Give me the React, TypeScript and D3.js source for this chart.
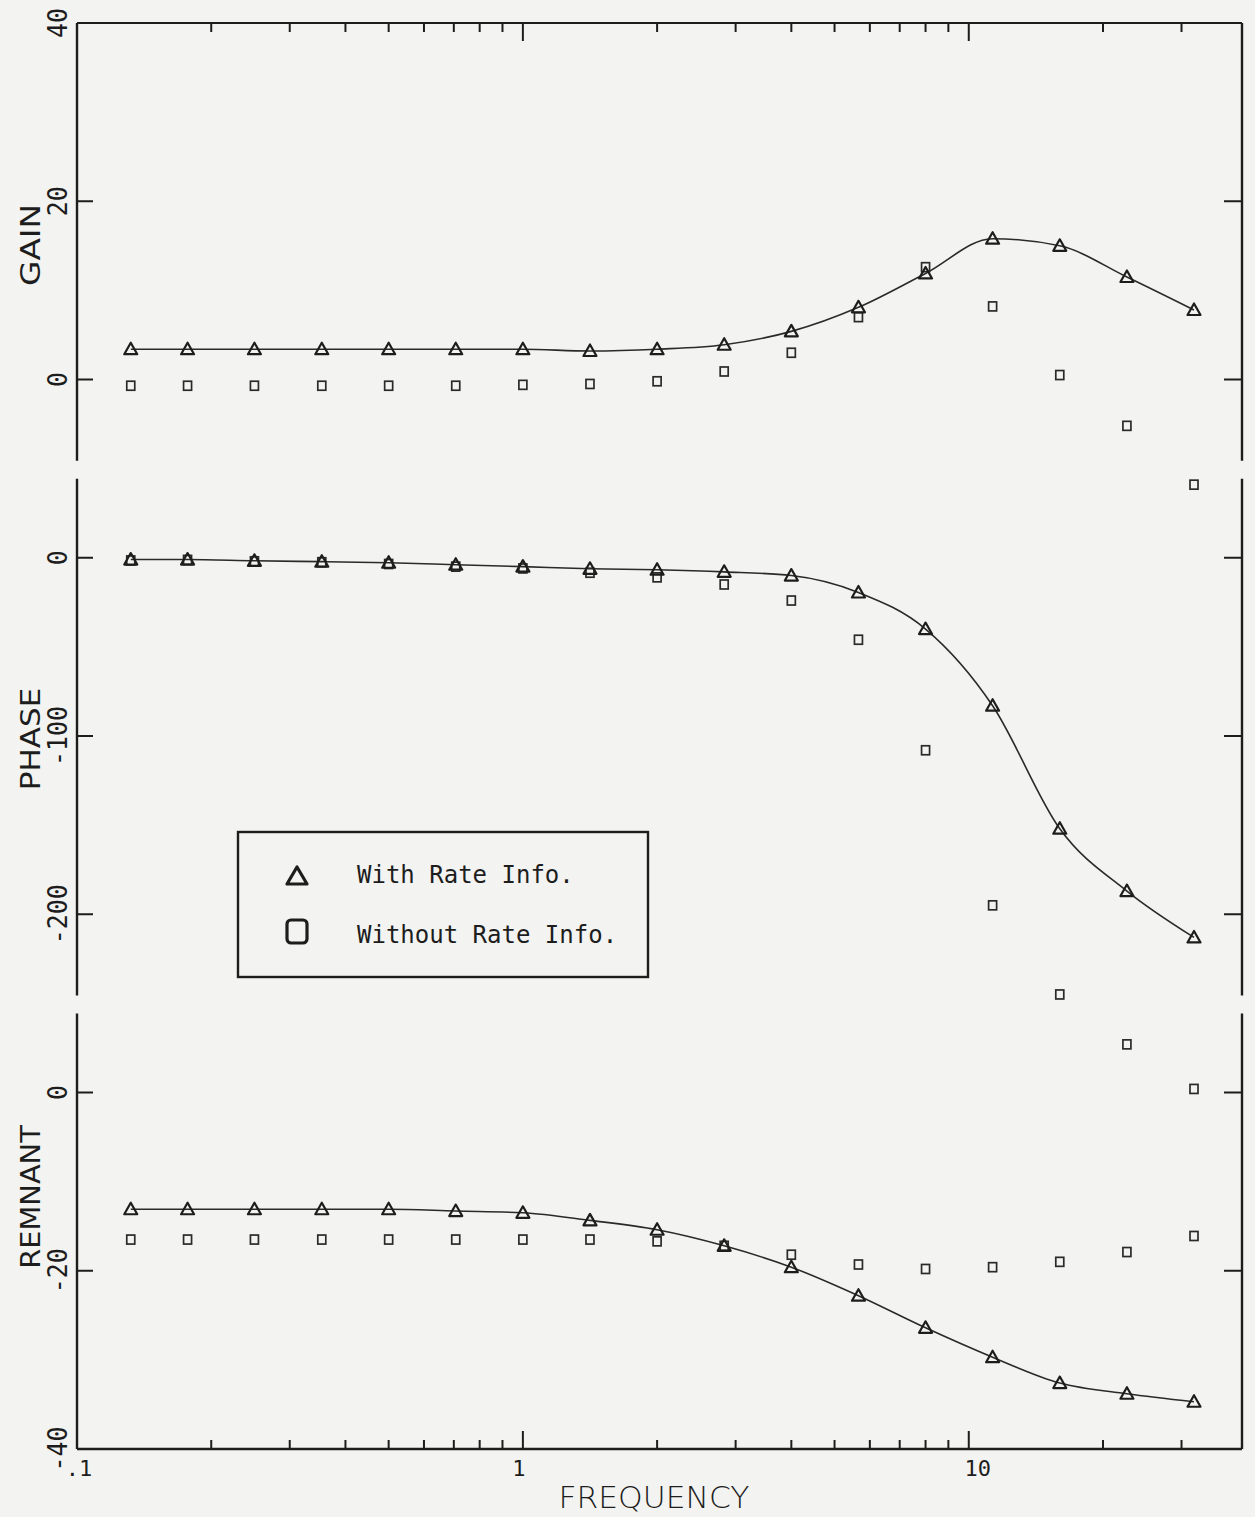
import React from "react";
import * as d3 from "d3";

// ---- data ----
const freq = [0.132, 0.177, 0.25, 0.354, 0.5, 0.707, 1.0, 1.414, 2.0, 2.828, 4.0, 5.657, 8.0, 11.31, 16.0, 22.63, 32.0];

const gainWith = [3.4, 3.4, 3.4, 3.4, 3.4, 3.4, 3.4, 3.2, 3.4, 3.9, 5.4, 8.1, 11.9, 15.8, 15.0, 11.5, 7.8];
const gainWithout = [-0.7, -0.7, -0.7, -0.7, -0.7, -0.7, -0.6, -0.5, -0.2, 0.9, 3.0, 7.0, 12.6, 8.2, 0.5, -5.2, -11.8];

const phaseWith = [-1, -1, -1.7, -2.2, -2.8, -3.9, -5, -6.2, -6.7, -7.9, -10, -19.5, -40, -83, -152, -187, -213];
const phaseWithout = [-1.5, -1.2, -2, -2.5, -3.5, -5, -6, -8.4, -11, -15, -24, -46, -108, -195, -245, -273, -298];

const remnantWith = [-13.1, -13.1, -13.1, -13.1, -13.1, -13.3, -13.5, -14.35, -15.4, -17.2, -19.6, -22.8, -26.4, -29.7, -32.6, -33.8, -34.7];
const remnantWithout = [-16.5, -16.5, -16.5, -16.5, -16.5, -16.5, -16.5, -16.5, -16.7, -17.2, -18.2, -19.3, -19.8, -19.6, -19.0, -17.9, -16.1];

const gainTicks = [40, 20, 0];
const phaseTicks = [0, -100, -200];
const remnantTicks = [0, -20, -40];
const xLabelValues = [0.1, 1, 10];
const xLabelTexts = [".1", "1", "10"];
const xDomain = [0.1, 41];

const legendLabels = ["With Rate Info.", "Without Rate Info."];
const panelTitles = ["GAIN", "PHASE", "REMNANT"];
const xTitle = "FREQUENCY";

// ---- layout ----
const W = 1255;
const H = 1517;
const L = 77, R = 1242, T = 23, B = 1449;
const STEP = (B - T) / 8;
const INK = "#1d1d1d";
const BG = "#f3f3f1";

export default function App() {
  const x = d3.scaleLog().domain(xDomain).range([L, R]);
  const gainY = d3.scaleLinear().domain([40, -10]).range([T, T + 2.5 * STEP]);
  const phaseY = d3.scaleLinear().domain([50, -250]).range([T + 2.5 * STEP, T + 5.5 * STEP]);
  const remY = d3.scaleLinear().domain([10, -40]).range([T + 5.5 * STEP, B]);

  const b1 = T + 2.5 * STEP;
  const b2 = T + 5.5 * STEP;
  const segments = [
    [T, b1 - 8],
    [b1 + 10, b2 - 8],
    [b2 + 10, B],
  ];

  const xt = x.ticks().filter((t) => t > 0.1 && t < 35);
  const isMajor = (t: number) => Math.abs(Math.log10(t) - Math.round(Math.log10(t))) < 1e-6;

  const panels = [
    { y: gainY, ticks: gainTicks, withV: gainWith, withoutV: gainWithout, title: panelTitles[0], ty: 245 },
    { y: phaseY, ticks: phaseTicks, withV: phaseWith, withoutV: phaseWithout, title: panelTitles[1], ty: 739 },
    { y: remY, ticks: remnantTicks, withV: remnantWith, withoutV: remnantWithout, title: panelTitles[2], ty: 1197 },
  ];

  const tri = "M-6.5,5 L6.5,5 L0,-6.5 Z";

  return (
    <div style={{ position: "absolute", left: 0, top: 0, width: W, height: H, background: BG }}>
      <svg width={W} height={H} viewBox={`0 0 ${W} ${H}`} style={{ display: "block" }}>
        <rect x={0} y={0} width={W} height={H} fill={BG} />
        {/* top & bottom axes */}
        <line x1={L} x2={R} y1={T} y2={T} stroke={INK} strokeWidth={2} />
        <line x1={L} x2={R} y1={B} y2={B} stroke={INK} strokeWidth={2.4} />
        {xt.map((t, i) => {
          const len = isMajor(t) ? 18 : 9;
          return (
            <g key={"xt" + i}>
              <line x1={x(t)} x2={x(t)} y1={T} y2={T + len} stroke={INK} strokeWidth={2} />
              <line x1={x(t)} x2={x(t)} y1={B} y2={B - len} stroke={INK} strokeWidth={2} />
            </g>
          );
        })}
        {/* left & right axis segments */}
        {segments.map((s, i) => (
          <g key={"seg" + i}>
            <line x1={L} x2={L} y1={s[0]} y2={s[1]} stroke={INK} strokeWidth={2.4} />
            <line x1={R} x2={R} y1={s[0]} y2={s[1]} stroke={INK} strokeWidth={2.4} />
          </g>
        ))}
        {/* panels */}
        {panels.map((p, pi) => {
          const line = d3
            .line<number>()
            .x((_, i) => x(freq[i]))
            .y((d) => p.y(d))
            .curve(d3.curveMonotoneX);
          return (
            <g key={"p" + pi}>
              {p.ticks.map((t, i) => (
                <g key={"yt" + i}>
                  <line x1={L} x2={L + 16} y1={p.y(t)} y2={p.y(t)} stroke={INK} strokeWidth={2} />
                  <line x1={R} x2={R - 18} y1={p.y(t)} y2={p.y(t)} stroke={INK} strokeWidth={2} />
                  <text
                    transform={`translate(67,${p.y(t)}) rotate(-90)`}
                    textAnchor="middle"
                    fontFamily="DejaVu Sans Mono, monospace"
                    fontSize={27}
                    textLength={String(t).length * 15}
                    lengthAdjust="spacingAndGlyphs"
                    fill={INK}
                  >
                    {String(t)}
                  </text>
                </g>
              ))}
              <text
                transform={`translate(40,${p.ty}) rotate(-90)`}
                textAnchor="middle"
                fontFamily="DejaVu Sans, sans-serif"
                fontSize={26}
                textLength={p.title.length * 20.5}
                lengthAdjust="spacingAndGlyphs"
                fill={INK}
              >
                {p.title}
              </text>
              <path d={line(p.withV) || ""} fill="none" stroke="#2a2a2a" strokeWidth={1.6} />
              {p.withoutV.map((v, i) => (
                <rect
                  key={"sq" + i}
                  x={x(freq[i]) - 4}
                  y={p.y(v) - 4.5}
                  width={8}
                  height={9}
                  fill="none"
                  stroke="#2a2a2a"
                  strokeWidth={1.7}
                />
              ))}
              {p.withV.map((v, i) => (
                <path
                  key={"tr" + i}
                  d={tri}
                  transform={`translate(${x(freq[i])},${p.y(v)})`}
                  fill="none"
                  stroke="#1d1d1d"
                  strokeWidth={2.2}
                  strokeLinejoin="round"
                />
              ))}
            </g>
          );
        })}
        {/* x tick labels */}
        {xLabelValues.map((v, i) => (
          <text
            key={"xl" + i}
            x={x(v) + (i === 0 ? 2 : i === 1 ? -4 : 9)}
            y={1476}
            textAnchor="middle"
            fontFamily="DejaVu Sans Mono, monospace"
            fontSize={22}
            fill={INK}
          >
            {xLabelTexts[i]}
          </text>
        ))}
        <text
          x={654}
          y={1508}
          textAnchor="middle"
          fontFamily="DejaVu Sans, sans-serif"
          fontWeight={300}
          fontSize={30}
          textLength={191}
          lengthAdjust="spacingAndGlyphs"
          fill={INK}
        >
          {xTitle}
        </text>
        {/* legend */}
        <rect x={238} y={832} width={410} height={145} fill={BG} stroke={INK} strokeWidth={2.4} />
        <path d="M-10,8 L10,8 L0,-9 Z" transform="translate(297,876)" fill="none" stroke={INK} strokeWidth={3.2} strokeLinejoin="round" />
        <rect x={287} y={920} width={20} height={23} rx={4} fill="none" stroke={INK} strokeWidth={3.2} />
        <text x={357} y={883} fontFamily="DejaVu Sans Mono, monospace" fontSize={24} fill={INK}>
          {legendLabels[0]}
        </text>
        <text x={357} y={943} fontFamily="DejaVu Sans Mono, monospace" fontSize={24} fill={INK}>
          {legendLabels[1]}
        </text>
      </svg>
    </div>
  );
}
